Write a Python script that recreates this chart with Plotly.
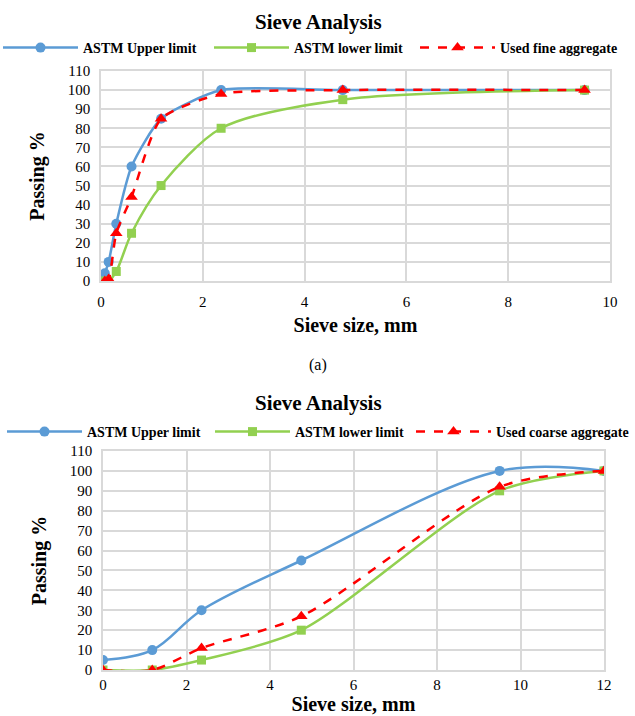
import plotly.graph_objects as go

W, H = 635, 716

# ---- data ----
fine_sizes = [0.075, 0.15, 0.3, 0.6, 1.18, 2.36, 4.75, 9.5]
fine_upper = [4, 10, 30, 60, 85, 100, 100, 100]
fine_lower = [0, 0, 5, 25, 50, 80, 95, 100]
fine_used = [0, 1, 25, 44, 85, 98, 100, 100]

coarse_sizes = [0, 1.18, 2.36, 4.75, 9.5, 12]
coarse_upper = [5, 10, 30, 55, 100, 100]
coarse_lower = [0, 0, 5, 20, 90, 100]
coarse_used = [0, 0, 11, 27, 92, 100]

x_ticks_fine = [0, 2, 4, 6, 8, 10]
x_ticks_coarse = [0, 2, 4, 6, 8, 10, 12]
y_ticks = list(range(0, 111, 10))

BLUE = "#5B9BD5"
GREEN = "#92D050"
RED = "#FF0000"
FONT = "Liberation Serif, Times New Roman, serif"


def px_x(p):
    return p / W


def px_y(p):
    return 1 - p / H


fig = go.Figure()


def add_series(x, y, name, color, symbol, dash, xa, ya, legend, size=10, smoothing=1.0):
    fig.add_trace(go.Scatter(
        x=x, y=y, name=name, mode="lines+markers",
        line=dict(color=color, width=2.5, shape="spline", smoothing=smoothing, dash=dash),
        marker=dict(color=color, symbol=symbol, size=size),
        xaxis=xa, yaxis=ya, legend=legend,
    ))


add_series(fine_sizes, fine_upper, "ASTM Upper limit", BLUE, "circle", "solid", "x", "y", "legend", 10, 0.6)
add_series(fine_sizes, fine_lower, "ASTM lower limit", GREEN, "square", "solid", "x", "y", "legend2", 9, 0.8)
add_series(fine_sizes, fine_used, "Used fine aggregate", RED, "triangle-up", "dash", "x", "y", "legend3", 11, 0.6)

add_series(coarse_sizes, coarse_upper, "ASTM Upper limit", BLUE, "circle", "solid", "x2", "y2", "legend4", 10, 1.0)
add_series(coarse_sizes, coarse_lower, "ASTM lower limit", GREEN, "square", "solid", "x2", "y2", "legend5", 9, 0.8)
add_series(coarse_sizes, coarse_used, "Used coarse aggregate", RED, "triangle-up", "dash", "x2", "y2", "legend6", 11, 0.8)

axis_common = dict(
    showgrid=True, gridcolor="#D9D9D9", gridwidth=1.5,
    showline=True, linecolor="#D9D9D9", linewidth=1.5, mirror=True,
    zeroline=False, ticks="", automargin=False,
    tickfont=dict(family=FONT, size=15, color="black"),
)
title_font = dict(family=FONT, size=20, color="black")
legend_font = dict(family=FONT, size=14, color="black", weight="bold")


def legend_at(xpx, ypx):
    return dict(orientation="h", x=px_x(xpx), y=px_y(ypx), yanchor="middle", xanchor="left",
                font=legend_font, itemwidth=75, bgcolor="rgba(0,0,0,0)", tracegroupgap=0)


fig.update_layout(
    width=W, height=H,
    margin=dict(l=0, r=0, t=0, b=0, autoexpand=False),
    paper_bgcolor="white", plot_bgcolor="white",
    font=dict(family=FONT, color="black"),
    xaxis=dict(domain=[px_x(101), px_x(610)], range=[0, 10], tickvals=x_ticks_fine,
               anchor="y", ticklabelstandoff=6,
               title=dict(text="<b>Sieve size, mm</b>", font=title_font, standoff=9),
               **axis_common),
    yaxis=dict(domain=[px_y(281), px_y(71)], range=[0, 110], tickvals=y_ticks,
               anchor="x", ticklabelstandoff=6,
               title=dict(text="<b>Passing %</b>", font=title_font, standoff=18),
               **axis_common),
    xaxis2=dict(domain=[px_x(103), px_x(604)], range=[0, 12], tickvals=x_ticks_coarse,
                anchor="y2", ticklabelstandoff=0,
                title=dict(text="<b>Sieve size, mm</b>", font=title_font, standoff=3),
                **axis_common),
    yaxis2=dict(domain=[px_y(670), px_y(451)], range=[0, 110], tickvals=y_ticks,
                anchor="x2", ticklabelstandoff=6,
                title=dict(text="<b>Passing %</b>", font=title_font, standoff=18),
                **axis_common),
    legend=legend_at(-2, 48),
    legend2=legend_at(209, 48),
    legend3=legend_at(415, 48),
    legend4=legend_at(2, 432),
    legend5=legend_at(210, 432),
    legend6=legend_at(411, 432),
    showlegend=True,
    annotations=[
        dict(text="<b>Sieve Analysis</b>", x=px_x(318), y=px_y(22), xref="paper", yref="paper",
             showarrow=False, font=dict(family=FONT, size=21, color="black"), yanchor="middle"),
        dict(text="<b>Sieve Analysis</b>", x=px_x(318), y=px_y(403), xref="paper", yref="paper",
             showarrow=False, font=dict(family=FONT, size=21, color="black"), yanchor="middle"),
        dict(text="(a)", x=px_x(318), y=px_y(365), xref="paper", yref="paper",
             showarrow=False, font=dict(family=FONT, size=16, color="black"), yanchor="middle"),
    ],
)

fig.write_html("out.html")
